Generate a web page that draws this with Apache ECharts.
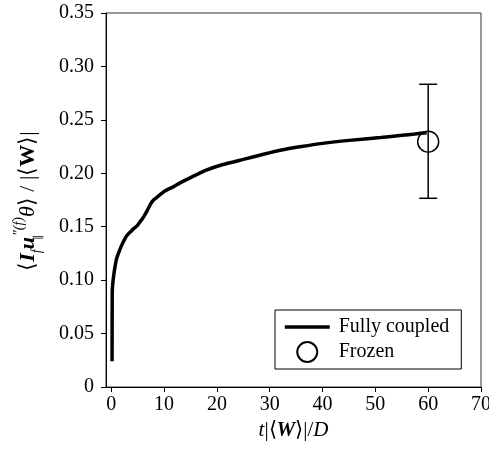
<!DOCTYPE html>
<html>
<head>
<meta charset="utf-8">
<script src="https://cdn.jsdelivr.net/npm/echarts@6/dist/echarts.min.js"></script>
<style>html,body{margin:0;padding:0;background:#fff;}#c{width:489px;height:451px;}</style>
</head>
<body>
<div id="c"></div>
<script>
// Fully coupled curve
var coupledX = [0.15, 0.18, 0.25, 0.5, 1.0, 1.5, 2.0, 2.5, 3.0, 3.6, 4.2, 4.9, 5.5, 6.1, 6.8, 7.4, 8.0, 9.0, 10, 11.8, 13, 15, 18, 21, 25, 29, 32, 36, 40, 45, 51, 55, 57.5, 59.7];
var coupledY = [0.024, 0.089, 0.095, 0.106, 0.12, 0.127, 0.133, 0.138, 0.142, 0.145, 0.148, 0.151, 0.155, 0.159, 0.165, 0.171, 0.175, 0.179, 0.183, 0.1875, 0.191, 0.196, 0.203, 0.208, 0.213, 0.218, 0.2215, 0.225, 0.228, 0.2308, 0.2335, 0.2355, 0.2368, 0.238];
// Frozen point with error bar
var frozenX = [60];
var frozenY = [0.2296];
var frozenLow = [0.1766];
var frozenHigh = [0.2833];
// Ticks
var xTicks = [0, 10, 20, 30, 40, 50, 60, 70];
var yTicks = [0, 0.05, 0.10, 0.15, 0.20, 0.25, 0.30, 0.35];

var FONT = 'Liberation Serif';
var chart = echarts.init(document.getElementById('c'), null, {renderer: 'canvas'});

var lineData = coupledX.map(function (x, i) { return [x, coupledY[i]]; });
var frozenData = frozenX.map(function (x, i) { return [x, frozenY[i]]; });
var errData = frozenX.map(function (x, i) { return [x, frozenLow[i], frozenHigh[i]]; });

chart.setOption({
  animation: false,
  backgroundColor: '#fff',
  grid: {left: 106, top: 13, right: 8, bottom: 64, outerBoundsMode: 'none', containLabel: false,
    show: true, borderColor: '#333', borderWidth: 1, backgroundColor: 'transparent'},
  legend: {
    orient: 'vertical', left: 275, top: 310,
    padding: [7, 12, 6, 8],
    borderColor: '#000', borderWidth: 1,
    itemWidth: 45, itemHeight: 20, itemGap: 4,
    textStyle: {fontFamily: FONT, fontSize: 20, color: '#000', padding: [0, 0, 0, 4]},
    data: [
      {name: 'Fully coupled', lineStyle: {width: 3.5, color: '#000'},
       itemStyle: {color: 'rgba(0,0,0,0)', borderColor: 'rgba(0,0,0,0)', borderWidth: 0, opacity: 0}},
      {name: 'Frozen'}
    ]
  },
  xAxis: {
    type: 'value', min: -1, max: 70,
    axisLine: {show: true, onZero: false, lineStyle: {color: '#000', width: 1}},
    axisTick: {show: true, length: 5, customValues: xTicks, lineStyle: {color: '#000'}},
    axisLabel: {customValues: xTicks, margin: 8, fontFamily: FONT, fontSize: 20, color: '#000'},
    splitLine: {show: false},
    name: '{i|t}{n||⟨}{bi|W}{n|⟩|/}{i|D}',
    nameLocation: 'middle', nameGap: 30,
    nameTextStyle: {
      rich: {
        i: {fontFamily: FONT, fontStyle: 'italic', fontSize: 21, color: '#000'},
        n: {fontFamily: FONT, fontSize: 21, color: '#000'},
        bi: {fontFamily: FONT, fontStyle: 'italic', fontWeight: 'bold', fontSize: 21, color: '#000'}
      }
    }
  },
  yAxis: {
    type: 'value', min: 0, max: 0.35, interval: 0.05,
    axisLine: {show: true, onZero: false, lineStyle: {color: '#000', width: 1}},
    axisTick: {show: true, length: 5, lineStyle: {color: '#000'}},
    axisLabel: {margin: 12, fontFamily: FONT, fontSize: 20, color: '#000',
      formatter: function (v) { return Math.abs(v) < 1e-9 ? '0' : v.toFixed(2); }},
    splitLine: {show: false}
  },
  graphic: [
    {
      type: 'text', x: 28, y: 201, rotation: Math.PI / 2,
      style: {
        text: '{n|⟨}{bi|I}{sub|f}{bi|u}{par|∥}{sup|″(f)}{it|θ}{n|⟩ / |⟨}{b|W}{n|⟩|}',
        align: 'center', verticalAlign: 'middle',
        rich: {
          n: {fontFamily: FONT, fontSize: 22, color: '#000', lineHeight: 32},
          it: {fontFamily: FONT, fontStyle: 'italic', fontSize: 22, color: '#000', lineHeight: 32},
          bi: {fontFamily: FONT, fontStyle: 'italic', fontWeight: 'bold', fontSize: 22, color: '#000', lineHeight: 32},
          b: {fontFamily: FONT, fontWeight: 'bold', fontSize: 22, color: '#000', lineHeight: 32},
          sub: {fontFamily: FONT, fontStyle: 'italic', fontSize: 14, color: '#000', verticalAlign: 'bottom', lineHeight: 32},
          par: {fontFamily: FONT, fontSize: 11, color: '#000', verticalAlign: 'bottom', lineHeight: 32, width: 1},
          sup: {fontFamily: FONT, fontStyle: 'italic', fontSize: 14, color: '#000', verticalAlign: 'top', lineHeight: 32}
        }
      }
    }
  ],
  series: [
    {
      name: 'Fully coupled', type: 'line', data: lineData,
      showSymbol: false, symbol: 'none', smooth: 0.2,
      lineStyle: {color: '#000', width: 3.5},
      itemStyle: {color: '#000'},
      z: 3
    },
    {
      name: 'errbar', type: 'custom', data: errData,
      renderItem: function (params, api) {
        var x = api.value(0);
        var lo = api.coord([x, api.value(1)]);
        var hi = api.coord([x, api.value(2)]);
        var hw = 9;
        var st = {stroke: '#000', lineWidth: 1.5};
        return {type: 'group', children: [
          {type: 'line', shape: {x1: lo[0], y1: lo[1], x2: hi[0], y2: hi[1]}, style: st},
          {type: 'line', shape: {x1: lo[0] - hw, y1: lo[1], x2: lo[0] + hw, y2: lo[1]}, style: st},
          {type: 'line', shape: {x1: hi[0] - hw, y1: hi[1], x2: hi[0] + hw, y2: hi[1]}, style: st}
        ]};
      },
      z: 2
    },
    {
      name: 'Frozen', type: 'scatter', data: frozenData,
      symbol: 'circle', symbolSize: 21, symbolKeepAspect: true,
      itemStyle: {color: 'rgba(0,0,0,0)', borderColor: '#000', borderWidth: 1.5, opacity: 1},
      z: 4
    }
  ]
});
</script>
</body>
</html>
